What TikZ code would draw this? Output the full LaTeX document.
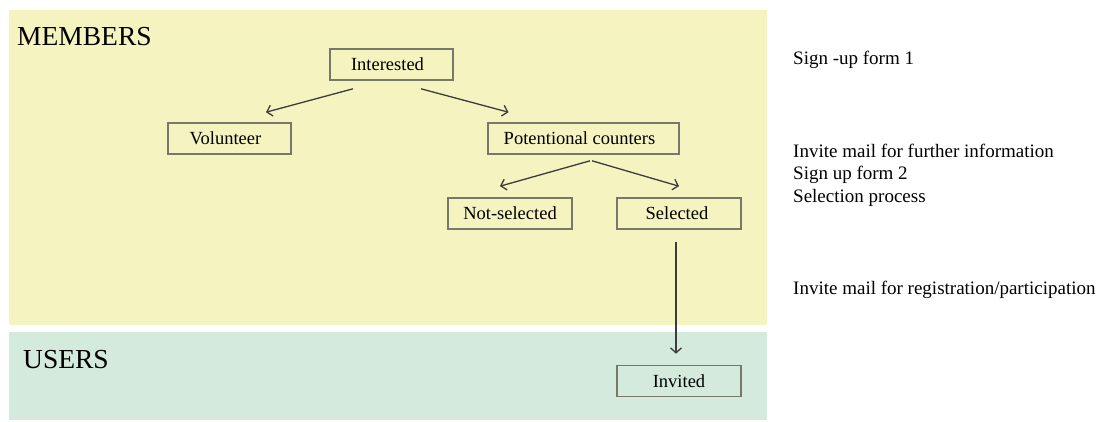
\documentclass[tikz,border=0pt]{standalone}
\usepackage{fontspec}
\setmainfont{Liberation Serif}
\usetikzlibrary{arrows.meta,calc}
\definecolor{memb}{RGB}{245,243,192}
\definecolor{usr}{RGB}{212,234,220}
\definecolor{boxline}{RGB}{120,120,105}
\definecolor{arrline}{RGB}{60,60,60}
\tikzset{
  stepbox/.style={draw=boxline, line width=1.6pt, minimum width=123pt, minimum height=31pt, inner sep=0pt, font=\fontsize{18.5}{20}\selectfont},
  arr/.style={draw=arrline, line width=1.3pt, -{Straight Barb[length=5pt,width=11pt,line width=1.3pt]}},
  paneltitle/.style={anchor=base west, inner sep=0pt, font=\fontsize{27.5}{30}\selectfont},
  note/.style={anchor=base west, inner sep=0pt, font=\fontsize{19}{22}\selectfont}
}
\begin{document}
\begin{tikzpicture}[x=1pt,y=-1pt]
\useasboundingbox (0,0) rectangle (1109,421);
\fill[white] (0,0) rectangle (1109,421);
\fill[memb] (9,10) rectangle (767,325);
\fill[usr] (9,332) rectangle (767,420);
\node[paneltitle] (members) at (17,45) {MEMBERS};
\node[paneltitle] (users) at (23,368) {USERS};
\node[stepbox, minimum width=123pt] (int) at (391.5,64.5) {\hspace*{-8pt}Interested};
\node[stepbox] (vol) at (229.5,138.5) {\hspace*{-8pt}Volunteer};
\node[stepbox, minimum width=191pt] (pot) at (583.5,138.5) {\hspace*{-8pt}Potentional counters};
\node[stepbox, minimum width=124pt] (nots) at (510,213.5) {Not-selected};
\node[stepbox, minimum width=124pt] (sel) at (679,213.5) {\hspace*{-4pt}Selected};
\node[stepbox, minimum width=124pt] (inv) at (679,381) {Invited};
\draw[arr] ($(int.south)+(-38.5,8)$) -- ($(vol.north)+(36.5,-10)$);
\draw[arr] ($(int.south)+(29.5,8)$) -- ($(pot.north)+(-75,-10)$);
\draw[arr] ($(pot.south)+(6.5,6)$) -- ($(nots.north)+(-10,-11)$);
\draw[arr] ($(pot.south)+(8.5,6)$) -- ($(sel.north)+(0,-11)$);
\draw[arr] ($(sel.south)+(-3,12)$) -- ($(inv.north)+(-3,-11)$);
\node[note] (n1) at (793,64) {Sign -up form 1};
\node[note] (n2) at (793,157) {Invite mail for further information};
\node[note] (n3) at (793,179.5) {Sign up form 2};
\node[note] (n4) at (793,202) {Selection process};
\node[note] (n5) at (793,294) {Invite mail for registration/participation};
\end{tikzpicture}
\end{document}
